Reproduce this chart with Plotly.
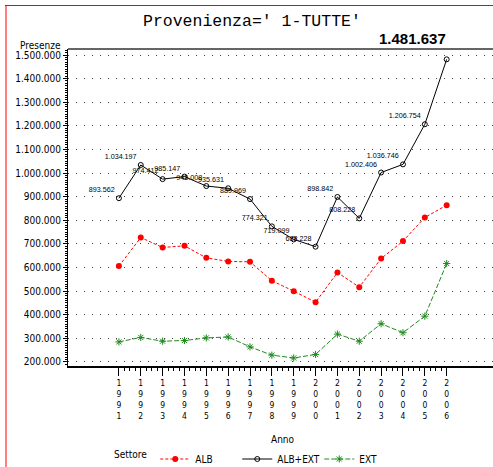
import plotly.graph_objects as go

years = list(range(1991, 2007))
year_labels = ["<br>".join(str(y)) for y in years]

alb = [606000, 727000, 685000, 692000, 641000, 626000, 624000, 544000,
       500000, 453000, 579000, 517000, 638000, 712000, 812000, 864000]
alb_ext = [893562, 1034197, 974412, 985147, 945008, 935631, 889969, 774321,
           719099, 688228, 898842, 808228, 1002406, 1036746, 1206754, 1481637]
ext = [285000, 304000, 288000, 291000, 302000, 306000, 264000, 229000,
       217000, 232000, 318000, 288000, 362000, 324000, 394000, 617000]

y_ticks = list(range(200000, 1500001, 100000))

W, H = 493, 467
L, R, T, B = 68, 0, 49, 101
PW, PH = W - L - R, H - T - B

def px(x):
    return (x - L) / PW

def py(y):
    return (H - B - y) / PH

def it_num(v):
    return f"{v:,}".replace(",", ".")

NARROW = "DejaVu Sans Condensed, Liberation Sans Narrow, Arial Narrow, sans-serif"
XRANGE = [1988.67, 2008.12]

fig = go.Figure()
fig.add_trace(go.Scatter(
    x=years, y=alb, name="ALB", mode="lines+markers",
    line=dict(color="#FF0000", width=1, dash="3px,2px"),
    marker=dict(symbol="circle", size=6, color="#FF0000"),
))
n = len(years)
fig.add_trace(go.Scatter(
    x=years, y=alb_ext, name="ALB+EXT", mode="lines+markers+text",
    line=dict(color="black", width=1),
    marker=dict(symbol="circle-open", size=5, color="black", line=dict(width=1)),
    text=[it_num(v) for v in alb_ext[:-1]] + [""],
    textposition="top left",
    textfont=dict(family="Liberation Sans, Arial, sans-serif", size=7.2, color="black"),
    cliponaxis=False,
))
fig.add_trace(go.Scatter(
    x=years, y=ext, name="EXT", mode="lines+markers",
    line=dict(color="#1E8C1E", width=1, dash="5px,2px"),
    marker=dict(symbol="asterisk-open", size=6, color="#1E8C1E",
                line=dict(width=1, color="#1E8C1E")),
))
# helper trace on overlay axis carrying the minor x ticks
fig.add_trace(go.Scatter(
    x=years, y=alb, xaxis="x2", mode="none", showlegend=False,
    hoverinfo="skip",
))

minor_x = [y + k * 0.25 for y in years[:-1] for k in (1, 2, 3)]

fig.update_layout(
    width=W, height=H,
    margin=dict(l=L, r=R, t=T, b=B, autoexpand=False),
    paper_bgcolor="white", plot_bgcolor="white",
    separators=",.",
    font=dict(family=NARROW, size=10, color="black"),
    showlegend=True,
    legend=dict(
        orientation="h", x=px(112), y=py(459), xanchor="left", yanchor="middle",
        title=dict(text="Settore", side="left", font=dict(family=NARROW, size=10)),
        font=dict(family=NARROW, size=10),
        itemwidth=30, entrywidth=37, tracegroupgap=0,
        bgcolor="rgba(0,0,0,0)",
    ),
    xaxis=dict(
        range=XRANGE,
        tickmode="array", tickvals=years, ticktext=year_labels,
        ticks="outside", ticklen=8, tickwidth=1, tickcolor="black",
        tickfont=dict(family=NARROW, size=8.5),
        showline=True, linecolor="black", linewidth=1.5,
        showgrid=False, zeroline=False,
    ),
    xaxis2=dict(
        range=XRANGE, overlaying="x", side="bottom", anchor="y",
        tickmode="array", tickvals=minor_x, showticklabels=False,
        ticks="outside", ticklen=4, tickwidth=1, tickcolor="black",
        showline=False, showgrid=False, zeroline=False,
    ),
    yaxis=dict(
        range=[183000, 1525400],
        tickmode="array", tickvals=y_ticks, tickformat=",.0f",
        ticks="outside", ticklen=4, tickwidth=1, tickcolor="black",
        tickfont=dict(family=NARROW, size=10),
        showline=True, linecolor="black", linewidth=1,
        showgrid=True, gridcolor="#444", gridwidth=1, griddash="1px,7px",
        zeroline=False,
        minor=dict(dtick=10000, tick0=0, ticks="outside", ticklen=2,
                   tickcolor="black", tickwidth=1, showgrid=False),
    ),
    annotations=[
        dict(text="<b>" + it_num(alb_ext[-1]) + "</b>", x=years[-1], y=alb_ext[-1],
             xref="x", yref="y", xanchor="right", yanchor="middle",
             yshift=21, xshift=1, showarrow=False,
             font=dict(family="Liberation Sans, Arial, sans-serif", size=15, color="black")),
        dict(text="Provenienza=' 1-TUTTE'", xref="paper", yref="paper",
             x=px(251.5), y=py(21), xanchor="center", yanchor="middle",
             showarrow=False,
             font=dict(family="Liberation Mono, DejaVu Sans Mono, monospace", size=16.5)),
        dict(text="Presenze", xref="paper", yref="paper",
             x=px(63), y=py(45), xanchor="right", yanchor="middle",
             showarrow=False, font=dict(family=NARROW, size=10)),
        dict(text="Anno", xref="paper", yref="paper",
             x=px(283), y=py(440), xanchor="center", yanchor="middle",
             showarrow=False, font=dict(family=NARROW, size=10)),
    ],
    shapes=[
        dict(type="line", xref="paper", yref="paper", x0=0, x1=1, y0=1, y1=1,
             line=dict(color="#666", width=2), layer="below"),
        dict(type="line", xref="paper", yref="paper", x0=px(6), x1=px(6),
             y0=py(5), y1=py(467), line=dict(color="#FF8080", width=2)),
        dict(type="line", xref="paper", yref="paper", x0=px(5), x1=1,
             y0=py(5.5), y1=py(5.5), line=dict(color="#FF0000", width=1)),
    ],
)

fig.write_html("out.html", config={"displayModeBar": False},
               post_script="document.body.style.margin='0';document.body.style.padding='0';")
